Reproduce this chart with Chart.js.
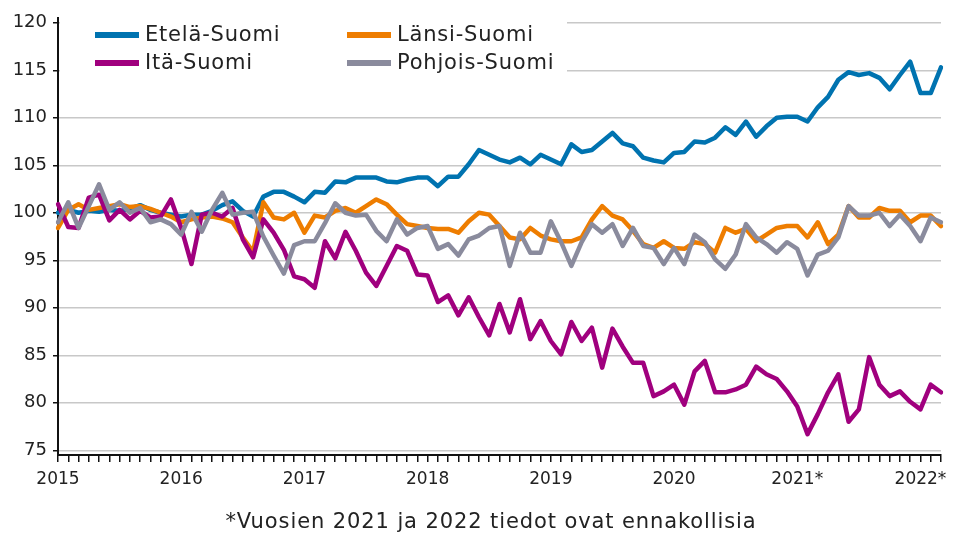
<!DOCTYPE html>
<html>
<head>
<meta charset="utf-8">
<script src="https://cdn.jsdelivr.net/npm/chart.js@4.4.1/dist/chart.umd.min.js"></script>
<style>
html,body{margin:0;padding:0;background:#fff;}
#wrap{width:955px;height:535px;position:relative;}
</style>
</head>
<body>
<div id="wrap"><canvas id="c"></canvas></div>
<script>
// ---- data (monthly, Jan 2015 – Mar 2022) ----
const years = ['2015','2016','2017','2018','2019','2020','2021*','2022*'];
const seriesNames = ['Etelä-Suomi','Länsi-Suomi','Itä-Suomi','Pohjois-Suomi'];
const yTickValues = [75,80,85,90,95,100,105,110,115,120];
const caption = '*Vuosien 2021 ja 2022 tiedot ovat ennakollisia';

const etela = [100.0,100.3,100.0,100.2,100.1,100.3,100.2,100.4,100.8,100.3,100.0,99.8,
  99.6,99.8,99.8,100.2,100.8,101.2,100.2,99.6,101.7,102.2,102.2,101.7,
  101.1,102.2,102.1,103.3,103.2,103.7,103.7,103.7,103.3,103.2,103.5,103.7,
  103.7,102.8,103.8,103.8,105.1,106.6,106.1,105.6,105.3,105.8,105.1,106.1,
  105.6,105.1,107.2,106.4,106.6,107.5,108.4,107.3,107.0,105.8,105.5,105.3,
  106.3,106.4,107.5,107.4,107.9,109.0,108.2,109.6,108.0,109.1,110.0,110.1,
  110.1,109.6,111.1,112.2,114.0,114.8,114.5,114.7,114.2,113.0,114.5,115.9,
  112.6,112.6,115.3];
const lansi = [98.4,100.3,100.9,100.3,100.5,100.7,100.9,100.6,100.7,100.4,100.0,99.6,
  99.0,99.3,99.5,99.6,99.4,99.0,97.4,95.9,101.1,99.5,99.3,100.0,
  97.9,99.7,99.5,100.2,100.5,100.0,100.7,101.4,100.9,99.8,98.8,98.6,
  98.4,98.3,98.3,97.9,99.1,100.0,99.8,98.6,97.4,97.2,98.4,97.6,
  97.2,97.0,97.0,97.4,99.3,100.7,99.7,99.3,98.1,96.7,96.3,97.0,
  96.3,96.2,96.9,96.7,95.8,98.4,97.9,98.3,97.0,97.7,98.4,98.6,
  98.6,97.4,99.0,96.7,97.7,100.7,99.5,99.5,100.5,100.2,100.2,99.0,
  99.7,99.7,98.6];
const ita = [100.9,98.5,98.4,101.6,101.9,99.2,100.3,99.3,100.2,99.5,99.6,101.4,
  98.4,94.6,99.8,100.0,99.6,100.5,97.2,95.3,99.3,97.9,96.1,93.3,
  93.0,92.1,97.0,95.2,98.0,96.0,93.7,92.3,94.4,96.5,96.0,93.5,
  93.4,90.6,91.3,89.2,91.1,89.0,87.1,90.4,87.4,90.9,86.7,88.6,
  86.5,85.1,88.5,86.5,87.9,83.7,87.8,85.9,84.2,84.2,80.7,81.2,
  81.9,79.8,83.3,84.4,81.1,81.1,81.4,81.9,83.8,83.0,82.5,81.2,
  79.6,76.7,78.8,81.1,83.0,78.0,79.3,84.8,81.9,80.7,81.2,80.1,
  79.3,81.9,81.1];
const pohjois = [99.0,101.1,98.4,100.7,103.0,100.3,101.1,100.0,100.5,99.0,99.3,98.8,
  97.7,100.1,98.0,100.3,102.1,99.8,100.0,100.1,97.5,95.5,93.6,96.6,
  97.0,97.0,98.9,101.0,100.0,99.7,99.8,98.1,97.0,99.3,97.7,98.4,
  98.6,96.2,96.7,95.5,97.2,97.6,98.4,98.6,94.4,97.9,95.8,95.8,
  99.1,96.9,94.4,96.9,98.8,97.9,98.8,96.5,98.4,96.5,96.3,94.6,
  96.3,94.6,97.7,96.9,95.1,94.1,95.6,98.8,97.4,96.7,95.8,96.9,
  96.2,93.4,95.6,96.0,97.4,100.7,99.7,99.7,100.0,98.6,99.8,98.6,
  97.0,99.5,99.0];

const labels = etela.map((_, i) => (i % 12 === 0 ? years[i / 12] : ''));

const colors = ['#0073b0', '#ee7d00', '#a0007e', '#8a8b9d'];
const FONT = "'DejaVu Sans', sans-serif";

// legend + caption drawn inside the canvas
const legendPlugin = {
  id: 'boxLegend',
  beforeDatasetsDraw(chart) {
    const {ctx, chartArea} = chart;
    ctx.save();
    ctx.fillStyle = '#ffffff';
    ctx.fillRect(chartArea.left + 2, chartArea.top - 4, 567 - chartArea.left - 2, 62);
    ctx.restore();
  },
  afterDatasetsDraw(chart) {
    const {ctx} = chart;
    const cols = [95, 347];
    const rows = [35, 63];
    const place = [[0,0],[1,0],[0,1],[1,1]];
    ctx.save();
    chart.data.datasets.forEach((ds, k) => {
      const x = cols[place[k][0]], y = rows[place[k][1]];
      ctx.strokeStyle = ds.borderColor;
      ctx.lineWidth = 6;
      ctx.lineCap = 'butt';
      ctx.beginPath();
      ctx.moveTo(x, y);
      ctx.lineTo(x + 44, y);
      ctx.stroke();
      ctx.fillStyle = '#222';
      ctx.font = '21px ' + FONT;
      if ('letterSpacing' in ctx) ctx.letterSpacing = '0.8px';
      ctx.textBaseline = 'middle';
      ctx.textAlign = 'left';
      ctx.fillText(ds.label, x + 50, y + 1);
    });
    ctx.restore();
  },
  afterDraw(chart) {
    const {ctx} = chart;
    ctx.save();
    ctx.fillStyle = '#222';
    ctx.font = '21px ' + FONT;
    if ('letterSpacing' in ctx) ctx.letterSpacing = '0.9px';
    ctx.textAlign = 'center';
    ctx.textBaseline = 'middle';
    ctx.fillText(caption, 491, 523);
    ctx.restore();
  }
};

const seriesData = [etela, lansi, ita, pohjois];
const drawOrder = [4, 3, 2, 1];

new Chart(document.getElementById('c'), {
  type: 'line',
  data: {
    labels: labels,
    datasets: seriesNames.map((name, k) => ({
      label: name,
      data: seriesData[k],
      borderColor: colors[k],
      backgroundColor: colors[k],
      borderWidth: 4.5,
      pointRadius: 0,
      tension: 0,
      borderJoinStyle: 'round',
      borderCapStyle: 'round',
      order: drawOrder[k]
    }))
  },
  options: {
    responsive: true,
    maintainAspectRatio: false,
    animation: false,
    layout: {padding: {top: 18, right: 14, left: 0, bottom: 40}},
    plugins: {legend: {display: false}, tooltip: {enabled: false}, title: {display: false}},
    scales: {
      x: {
        type: 'category',
        offset: false,
        grid: {drawOnChartArea: false, drawTicks: true, tickLength: 7, tickColor: '#111', lineWidth: 1.5},
        border: {display: true, color: '#111', width: 2},
        ticks: {autoSkip: false, maxRotation: 0, minRotation: 0, padding: 7,
          color: '#222', font: {family: FONT, size: 17}},
        afterFit(s) { s.height = 40; }
      },
      y: {
        min: 74.5,
        max: 120.5,
        afterBuildTicks(s) { s.ticks = yTickValues.map(v => ({value: v})); },
        grid: {color: '#c8c8c8', lineWidth: 1.5, drawTicks: true, tickLength: 5, tickColor: '#111'},
        border: {display: true, color: '#111', width: 2},
        ticks: {padding: 6, color: '#222', font: {family: FONT, size: 18}},
        afterFit(s) { s.width = 58; }
      }
    }
  },
  plugins: [legendPlugin]
});
</script>
</body>
</html>
